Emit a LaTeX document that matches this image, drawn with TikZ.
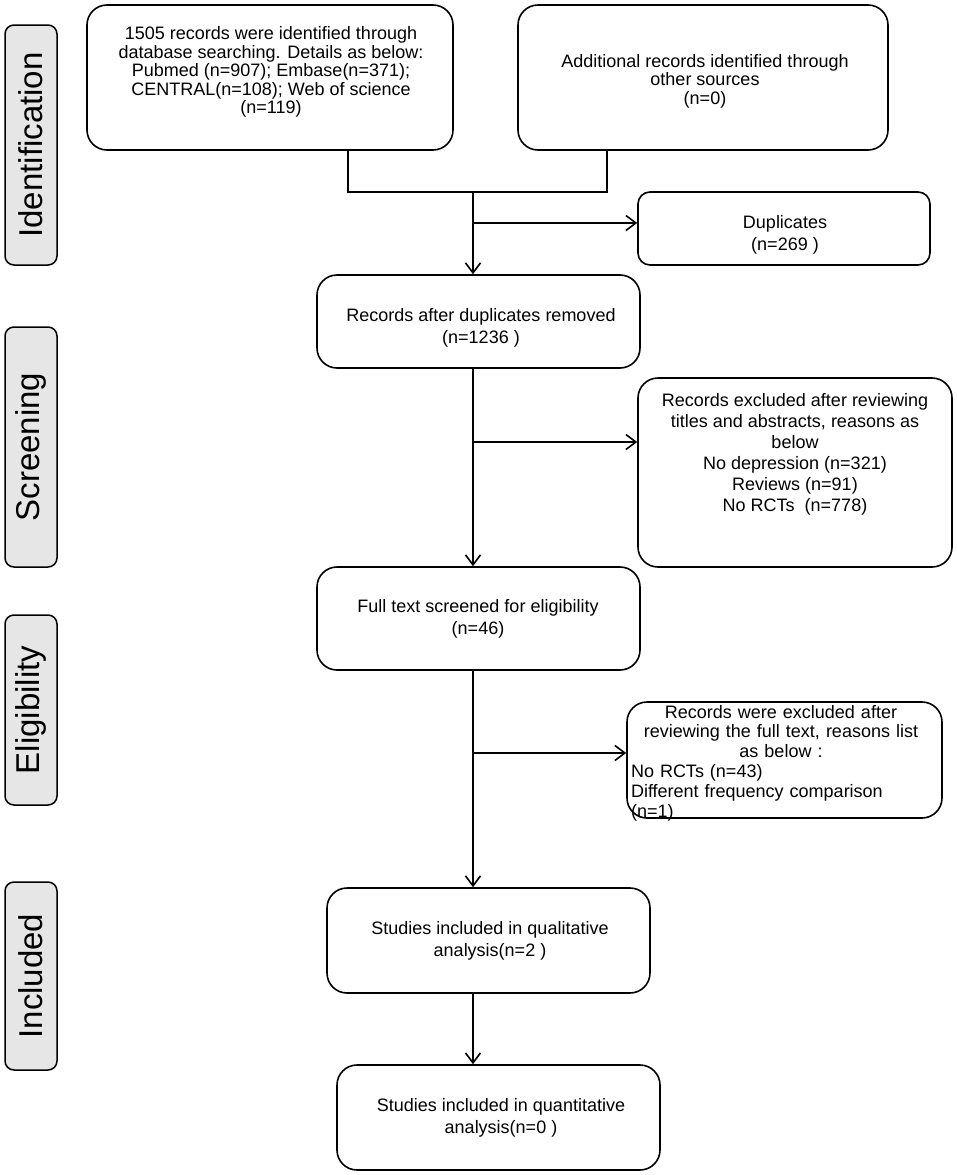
\documentclass[tikz,border=0pt]{standalone}
\usepackage{fontspec}
\setmainfont{Liberation Sans}
\usetikzlibrary{arrows.meta}
\definecolor{sidegray}{HTML}{E6E6E6}
\begin{document}
\begin{tikzpicture}[x=1pt,y=-1pt,
  box/.style={draw, line width=1.6pt, rounded corners=20pt, inner sep=0pt,
    align=center, font=\fontsize{18}{19.5}\selectfont},
  smallbox/.style={box, rounded corners=12pt},
  side/.style={draw, line width=1.5pt, fill=sidegray, rounded corners=9pt,
    minimum width=52pt, inner sep=0pt},
  sidetext/.style={rotate=90, font=\fontsize{33}{36}\selectfont, inner sep=0pt},
  ln/.style={line width=1.6pt},
  arr/.style={line width=1.6pt, -{Straight Barb[length=10pt,width=15pt,line width=1.6pt]}}
]
\useasboundingbox (0,0) rectangle (957,1175);

% side labels
\node[side, minimum height=240pt] (sid) at (31,145) {};
\node[sidetext] (tid) at (sid.center) {Identification};
\node[side, minimum height=240pt] (ssc) at (31,447) {};
\node[sidetext] (tsc) at (ssc.center) {Screening};
\node[side, minimum height=190pt] (sel) at (31,710) {};
\node[sidetext] (tel) at (sel.center) {Eligibility};
\node[side, minimum height=188pt] (sin) at (31,976) {};
\node[sidetext] (tin) at (sin.center) {Included};

% boxes
\node[box, minimum width=366pt, minimum height=145pt] (b1) at (270,77.5) {};
\node[align=center, font=\fontsize{18}{18.5}\selectfont, inner sep=0pt] (t1) at (271,72)
  {1505 records were identified through\\database searching. Details as below:\\Pubmed (n=907); Embase(n=371);\\CENTRAL(n=108); Web of science\\(n=119)};
\node[box, minimum width=370pt, minimum height=145pt] (b2) at (703,77.5) {};
\node[align=center, font=\fontsize{18}{18.5}\selectfont, inner sep=0pt] (t2) at (705,81)
  {Additional records identified through\\other sources\\(n=0)};
\node[smallbox, minimum width=292pt, minimum height=73pt] (dup) at (784,228.5) {};
\node[align=center, font=\fontsize{18}{22}\selectfont, inner sep=0pt] (tdup) at (785,235)
  {Duplicates\\(n=269 )};
\node[box, minimum width=323pt, minimum height=93pt] (b3) at (478.5,321.5) {};
\node[align=center, font=\fontsize{18}{22}\selectfont, inner sep=0pt] (t3) at (481,328)
  {Records after duplicates removed\\(n=1236 )};
\node[box, minimum width=314pt, minimum height=189pt] (ex1) at (795,472.5) {};
\node[align=center, font=\fontsize{18}{21}\selectfont, inner sep=0pt] (tex1) at (795,454)
  {Records excluded after reviewing\\titles and abstracts, reasons as\\below\\No depression (n=321)\\Reviews (n=91)\\No RCTs\ \ (n=778)};
\node[box, minimum width=315pt, minimum height=116pt] (ex2) at (784.5,760) {};
\node[font=\fontsize{18}{19.8}\selectfont, inner sep=0pt, text width=300pt] (tex2) at (781,763)
  {\centering Records were excluded after\\reviewing the full text, reasons list\\as below :\par
   \raggedright No RCTs (n=43)\\Different frequency comparison\\(n=1)\par};
\node[box, minimum width=323pt, minimum height=103pt] (b4) at (478.5,618.5) {};
\node[align=center, font=\fontsize{18}{22}\selectfont, inner sep=0pt] (t4) at (478,619)
  {Full text screened for eligibility\\(n=46)};
\node[box, minimum width=323pt, minimum height=105pt] (b5) at (488.5,940.5) {};
\node[align=center, font=\fontsize{18}{22}\selectfont, inner sep=0pt] (t5) at (490,941)
  {Studies included in qualitative\\analysis(n=2 )};
\node[box, minimum width=323pt, minimum height=105pt] (b6) at (498.5,1117.5) {};
\node[align=center, font=\fontsize{18}{22}\selectfont, inner sep=0pt] (t6) at (501,1118)
  {Studies included in quantitative\\analysis(n=0 )};

% junction coordinates
\coordinate (j1) at (348,192);
\coordinate (j2) at (607,192);
\coordinate (jm) at (473,192);
\coordinate (jd) at (473,223);
\coordinate (je1) at (473,442);
\coordinate (je2) at (473,753);

% connectors
\draw[ln] (b1.south -| j1) -- (j1) -- (j2) -- (b2.south -| j2);
\draw[arr] (jm) -- (b3.north -| jm);
\draw[arr] (jd) -- (dup.west |- jd);
\draw[arr] (b3.south -| jm) -- (b4.north -| jm);
\draw[arr] (je1) -- (ex1.west |- je1);
\draw[arr] (b4.south -| jm) -- (b5.north -| jm);
\draw[arr] (je2) -- (ex2.west |- je2);
\draw[arr] (b5.south -| jm) -- (b6.north -| jm);
\end{tikzpicture}
\end{document}
